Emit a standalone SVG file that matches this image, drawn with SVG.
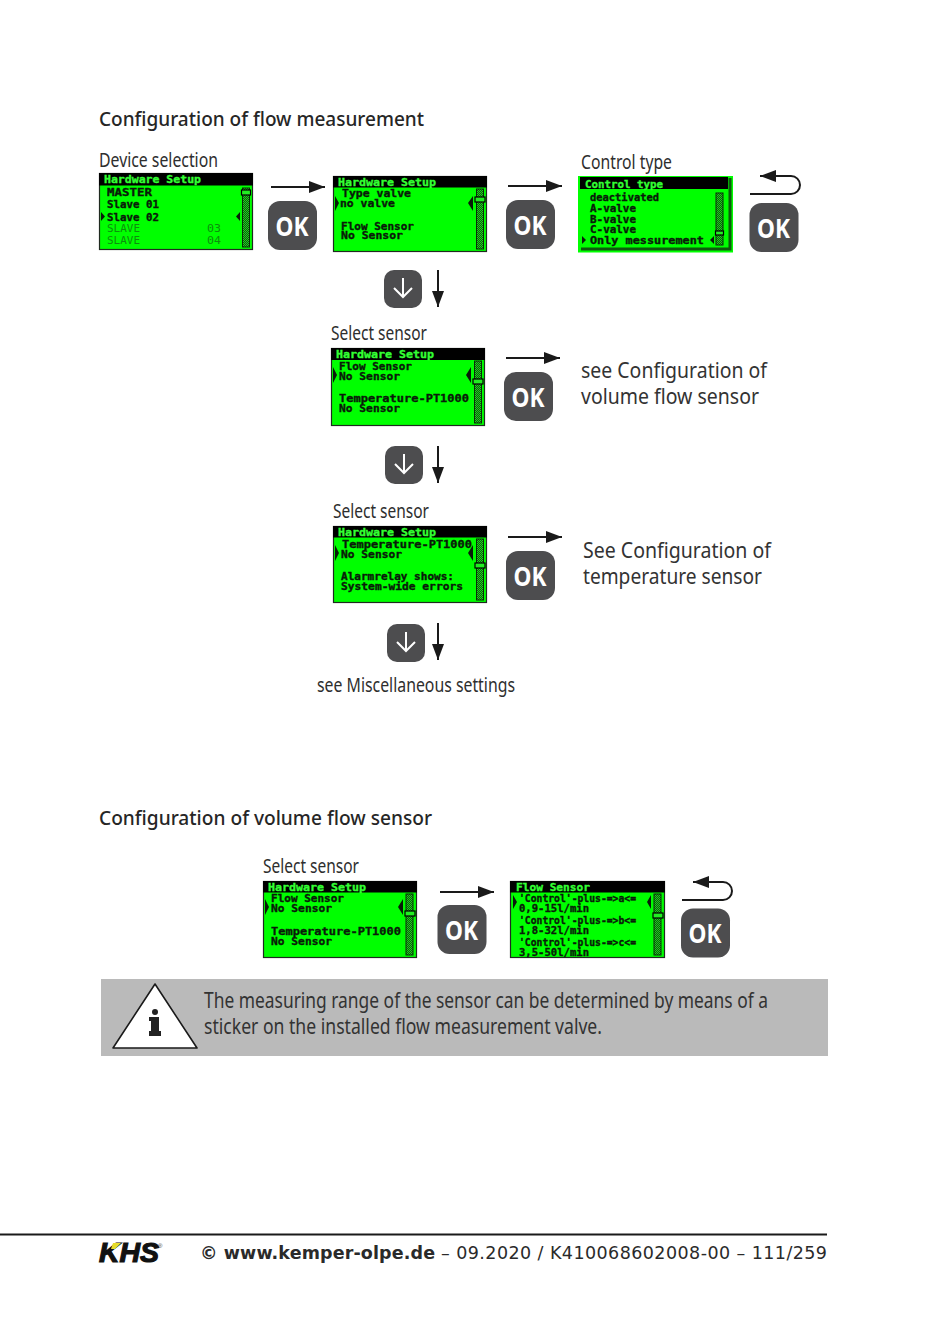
<svg xmlns="http://www.w3.org/2000/svg" width="950" height="1332" viewBox="0 0 950 1332">
<style>
text{font-family:"Noto Sans","Open Sans","Liberation Sans",sans-serif;fill:#222}
.h{font-size:20px;font-weight:500;fill:#262626}
.l{font-size:19px;fill:#2e2e2e}
.b{font-size:21px;fill:#333}
.n{font-size:21px;fill:#333}
.t{font-family:"DejaVu Sans Mono","Liberation Mono",monospace;font-weight:700;font-size:10.5px;fill:#0a1a0a;stroke:#0a1a0a;stroke-width:.35px}
.th{fill:#33ff33;stroke:#33ff33}
.dim{fill:#0c8f0c;stroke:none;font-weight:400}
.lcd{fill:#00ff00;stroke:#202a20;stroke-width:1.2}
.bar{fill:#000}
.sb{fill:url(#hatch);stroke:#0a2a0a;stroke-width:1}
.knob{fill:#22ee22;stroke:#000;stroke-width:1.2}
.mk{fill:#0a1a0a}
.c{fill:none;stroke:#1a1a1a;stroke-width:2}
.ok{font-size:26.5px;font-weight:700;fill:#fff;text-anchor:middle}
.f{font-family:"DejaVu Sans","Liberation Sans",sans-serif;font-size:17.5px;fill:#2a2a2a}
</style>
<defs>
<pattern id="hatch" width="2" height="2" patternUnits="userSpaceOnUse"><rect width="2" height="2" fill="#0a5a0a"/><rect width="1" height="1" fill="#22d022"/><rect x="1" y="1" width="1" height="1" fill="#22d022"/></pattern>
<marker id="ah" markerWidth="16" markerHeight="12" refX="16" refY="6" orient="auto" markerUnits="userSpaceOnUse"><path d="M0 0L16 6L0 12Z" fill="#1a1a1a"/></marker>
<g id="okb"><rect width="49" height="49" rx="12" fill="#4d4d4f"/><text class="ok" x="24" y="34.500" textLength="33" lengthAdjust="spacingAndGlyphs">OK</text></g>
<g id="dnb"><rect width="38" height="38" rx="10" fill="#4d4d4f"/><path d="M19 8V27M10 18L19 27L28 18" fill="none" stroke="#fff" stroke-width="2"/></g>
</defs>

<text class="h" x="99" y="126" textLength="325" lengthAdjust="spacingAndGlyphs">Configuration of flow measurement</text>
<text class="l" x="99" y="167" textLength="119" lengthAdjust="spacingAndGlyphs">Device selection</text>
<text class="l" x="581" y="169" textLength="91" lengthAdjust="spacingAndGlyphs">Control type</text>
<text class="l" x="331" y="340" textLength="96" lengthAdjust="spacingAndGlyphs">Select sensor</text>
<text class="l" x="333" y="518" textLength="96" lengthAdjust="spacingAndGlyphs">Select sensor</text>
<text class="n" x="581" y="378" textLength="186" lengthAdjust="spacingAndGlyphs">see Configuration of</text>
<text class="n" x="581" y="404" textLength="178" lengthAdjust="spacingAndGlyphs">volume flow sensor</text>
<text class="n" x="583" y="558" textLength="188" lengthAdjust="spacingAndGlyphs">See Configuration of</text>
<text class="n" x="583" y="584" textLength="179" lengthAdjust="spacingAndGlyphs">temperature sensor</text>
<text class="l" x="317" y="692" textLength="198" lengthAdjust="spacingAndGlyphs">see Miscellaneous settings</text>
<text class="h" x="99" y="825" textLength="333" lengthAdjust="spacingAndGlyphs">Configuration of volume flow sensor</text>
<text class="l" x="263" y="873" textLength="96" lengthAdjust="spacingAndGlyphs">Select sensor</text>

<g id="screen-device">
<rect class="lcd" x="99.500" y="173.500" width="153" height="76"/><rect class="bar" x="99" y="173" width="154" height="12.500"/>
<text class="t th" x="104" y="182.500" textLength="97" lengthAdjust="spacingAndGlyphs">Hardware Setup</text>
<text class="t" x="107" y="196" textLength="45" lengthAdjust="spacingAndGlyphs">MASTER</text>
<text class="t" x="107" y="208" textLength="52" lengthAdjust="spacingAndGlyphs">Slave 01</text>
<text class="t" x="107" y="220.500" textLength="52" lengthAdjust="spacingAndGlyphs">Slave 02</text>
<text class="t dim" x="107" y="232" textLength="33" lengthAdjust="spacingAndGlyphs">SLAVE</text><text class="t dim" x="207" y="232" textLength="14" lengthAdjust="spacingAndGlyphs">03</text>
<text class="t dim" x="107" y="244" textLength="33" lengthAdjust="spacingAndGlyphs">SLAVE</text><text class="t dim" x="207" y="244" textLength="14" lengthAdjust="spacingAndGlyphs">04</text>
<rect class="sb" x="242.500" y="188" width="7" height="59"/><rect class="knob" x="241.500" y="190" width="9" height="5"/>
<path class="mk" d="M101 212L105 216.500L101 221ZM240 212L236 216.500L240 221Z"/>
</g>
<g id="screen-valve">
<rect class="lcd" x="333.500" y="176.500" width="153" height="75"/><rect class="bar" x="333" y="176" width="154" height="11.500"/>
<text class="t th" x="338" y="185.500" textLength="98" lengthAdjust="spacingAndGlyphs">Hardware Setup</text>
<text class="t" x="342" y="197" textLength="69" lengthAdjust="spacingAndGlyphs">Type valve</text>
<text class="t" x="340" y="206.500" textLength="55" lengthAdjust="spacingAndGlyphs">no valve</text>
<text class="t" x="341" y="229.500" textLength="73" lengthAdjust="spacingAndGlyphs">Flow Sensor</text>
<text class="t" x="341" y="239" textLength="62" lengthAdjust="spacingAndGlyphs">No Sensor</text>
<rect class="sb" x="476.500" y="189" width="7" height="60"/><rect class="knob" x="475" y="197" width="10" height="5"/>
<path class="mk" d="M335 196L339 203L335 211ZM473 196L468 203L473 211Z"/>
</g>
<g id="screen-control">
<rect x="578" y="176" width="155" height="76.500" fill="#00ff00"/><rect x="580" y="177" width="148" height="12" fill="#000"/>
<path d="M730 178V249H581" fill="none" stroke="#0d5a0d" stroke-width="3"/>
<text class="t th" x="585" y="187.500" textLength="78" lengthAdjust="spacingAndGlyphs">Control type</text>
<text class="t" x="590" y="201" textLength="69" lengthAdjust="spacingAndGlyphs">deactivated</text>
<text class="t" x="590" y="211.500" textLength="46" lengthAdjust="spacingAndGlyphs">A-valve</text>
<text class="t" x="590" y="222.500" textLength="46" lengthAdjust="spacingAndGlyphs">B-valve</text>
<text class="t" x="590" y="233" textLength="46" lengthAdjust="spacingAndGlyphs">C-valve</text>
<text class="t" x="590" y="244" textLength="114" lengthAdjust="spacingAndGlyphs">Only messurement</text>
<rect class="sb" x="716" y="193" width="7" height="52"/><rect class="knob" x="715.500" y="231" width="8" height="4"/>
<path class="mk" d="M582 236L586 240L582 244ZM714 236L710 240L714 244Z"/>
</g>
<g id="screen-sensor-1">
<rect class="lcd" x="331.500" y="348.500" width="153" height="77"/><rect class="bar" x="331" y="348" width="154" height="12"/>
<text class="t th" x="336" y="357.500" textLength="98" lengthAdjust="spacingAndGlyphs">Hardware Setup</text>
<text class="t" x="339" y="370" textLength="73" lengthAdjust="spacingAndGlyphs">Flow Sensor</text>
<text class="t" x="339" y="379.500" textLength="61" lengthAdjust="spacingAndGlyphs">No Sensor</text>
<text class="t" x="339" y="402" textLength="130" lengthAdjust="spacingAndGlyphs">Temperature-PT1000</text>
<text class="t" x="339" y="412" textLength="61" lengthAdjust="spacingAndGlyphs">No Sensor</text>
<rect class="sb" x="474.500" y="361" width="7" height="62"/><rect class="knob" x="473" y="379" width="10" height="5"/>
<path class="mk" d="M333 367L337 375L333 383ZM471 367L466 375L471 383Z"/>
</g>
<g id="screen-sensor-2">
<rect class="lcd" x="333.500" y="526.500" width="153" height="76"/><rect class="bar" x="333" y="526" width="154" height="11.500"/>
<text class="t th" x="338" y="535.500" textLength="98" lengthAdjust="spacingAndGlyphs">Hardware Setup</text>
<text class="t" x="342" y="547.500" textLength="130" lengthAdjust="spacingAndGlyphs">Temperature-PT1000</text>
<text class="t" x="341" y="557.500" textLength="61" lengthAdjust="spacingAndGlyphs">No Sensor</text>
<text class="t" x="341" y="580" textLength="113" lengthAdjust="spacingAndGlyphs">Alarmrelay shows:</text>
<text class="t" x="341" y="590" textLength="122" lengthAdjust="spacingAndGlyphs">System-wide errors</text>
<rect class="sb" x="476.500" y="539" width="7" height="61"/><rect class="knob" x="475" y="563" width="10" height="5"/>
<path class="mk" d="M335 545L339 553L335 561ZM473 545L468 553L473 561Z"/>
</g>
<g id="screen-sensor-3">
<rect class="lcd" x="263.500" y="881.500" width="153" height="76"/><rect class="bar" x="263" y="881" width="154" height="11.500"/>
<text class="t th" x="268" y="890.500" textLength="98" lengthAdjust="spacingAndGlyphs">Hardware Setup</text>
<text class="t" x="271" y="902" textLength="73" lengthAdjust="spacingAndGlyphs">Flow Sensor</text>
<text class="t" x="271" y="912" textLength="61" lengthAdjust="spacingAndGlyphs">No Sensor</text>
<text class="t" x="271" y="935" textLength="130" lengthAdjust="spacingAndGlyphs">Temperature-PT1000</text>
<text class="t" x="271" y="945" textLength="61" lengthAdjust="spacingAndGlyphs">No Sensor</text>
<rect class="sb" x="406" y="894" width="7" height="61"/><rect class="knob" x="405" y="911" width="10" height="5"/>
<path class="mk" d="M265 899L269 907L265 915ZM403 899L398 907L403 915Z"/>
</g>
<g id="screen-flow">
<rect class="lcd" x="510.500" y="881.500" width="154" height="76"/><rect class="bar" x="510" y="881" width="155" height="11.500"/>
<text class="t th" x="516" y="890.500" textLength="74" lengthAdjust="spacingAndGlyphs">Flow Sensor</text>
<text class="t" x="519" y="902" textLength="117" lengthAdjust="spacingAndGlyphs">'Control'-plus-=&gt;a&lt;=</text>
<text class="t" x="519" y="912" textLength="70" lengthAdjust="spacingAndGlyphs">0,9-15l/min</text>
<text class="t" x="519" y="924" textLength="117" lengthAdjust="spacingAndGlyphs">'Control'-plus-=&gt;b&lt;=</text>
<text class="t" x="519" y="934" textLength="70" lengthAdjust="spacingAndGlyphs">1,8-32l/min</text>
<text class="t" x="519" y="945.500" textLength="117" lengthAdjust="spacingAndGlyphs">'Control'-plus-=&gt;c&lt;=</text>
<text class="t" x="519" y="955.500" textLength="70" lengthAdjust="spacingAndGlyphs">3,5-50l/min</text>
<rect class="sb" x="654" y="894" width="7" height="61"/><rect class="knob" x="653" y="913" width="10" height="5"/>
<path class="mk" d="M513 895L517 902L513 909ZM651 895L647 902L651 909Z"/>
</g>

<g id="connectors">
<path class="c" d="M271 187H325" marker-end="url(#ah)"/>
<path class="c" d="M508 186H562" marker-end="url(#ah)"/>
<path class="c" d="M506 358H560" marker-end="url(#ah)"/>
<path class="c" d="M508 537H562" marker-end="url(#ah)"/>
<path class="c" d="M440 892H494" marker-end="url(#ah)"/>
<path class="c" d="M438 270V307" marker-end="url(#ah)"/>
<path class="c" d="M438 446V483" marker-end="url(#ah)"/>
<path class="c" d="M438 623V660" marker-end="url(#ah)"/>
<path class="c" d="M750 194H791A9 9 0 0 0 791 176H760" marker-end="url(#ah)"/>
<path class="c" d="M682 900H723A9 9 0 0 0 723 882H693" marker-end="url(#ah)"/>
</g>

<g id="btn-ok-1"><use href="#okb" x="268" y="201"/></g>
<g id="btn-ok-2"><use href="#okb" x="506" y="200"/></g>
<g id="btn-ok-3"><use href="#okb" x="749.500" y="203"/></g>
<g id="btn-ok-4"><use href="#okb" x="504" y="372"/></g>
<g id="btn-ok-5"><use href="#okb" x="506" y="551"/></g>
<g id="btn-ok-6"><use href="#okb" x="437.500" y="905"/></g>
<g id="btn-ok-7"><use href="#okb" x="681" y="908.500"/></g>
<g id="btn-down-1"><use href="#dnb" x="384" y="270"/></g>
<g id="btn-down-2"><use href="#dnb" x="385" y="446"/></g>
<g id="btn-down-3"><use href="#dnb" x="387" y="624"/></g>

<g id="info-note">
<rect x="101" y="979" width="727" height="77" fill="#bababa"/>
<path d="M155 984L197 1048H113Z" fill="#fff" stroke="#1a1a1a" stroke-width="1.600" stroke-linejoin="round"/>
<circle cx="155" cy="1012" r="3" fill="#222"/>
<path d="M149 1017H159V1031H161V1036H149V1031H151V1021H149Z" fill="#222"/>
<text class="b" x="204" y="1008" textLength="564" lengthAdjust="spacingAndGlyphs">The measuring range of the sensor can be determined by means of a</text>
<text class="b" x="204" y="1034" textLength="398" lengthAdjust="spacingAndGlyphs">sticker on the installed flow measurement valve.</text>
</g>

<g id="footer">
<rect x="0" y="1233.500" width="827" height="2" fill="#1a1a1a"/>
<text x="99" y="1262" style="font-family:'Liberation Sans',sans-serif;font-size:28px;font-weight:700;font-style:italic;fill:#111;stroke:#111;stroke-width:1.200px" textLength="60" lengthAdjust="spacingAndGlyphs">KHS</text>
<path d="M113 1243L121 1243L115 1249L111 1249Z" fill="#e6dc2a"/>
<text x="158" y="1248" style="font-family:'Liberation Sans',sans-serif;font-size:6px;fill:#444">®</text>
<text class="f" x="200" y="1259" style="font-weight:700" textLength="235" lengthAdjust="spacing">© www.kemper-olpe.de</text>
<text class="f" x="441" y="1259" textLength="386" lengthAdjust="spacing">– 09.2020 / K410068602008-00 – 111/259</text>
</g>
</svg>
